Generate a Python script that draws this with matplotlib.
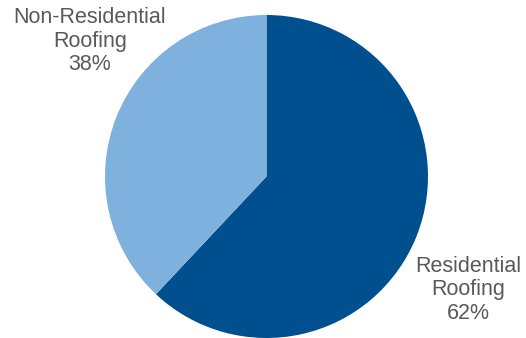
import matplotlib.pyplot as plt

# share of roofing revenue
labels = ["Residential\nRoofing", "Non-Residential\nRoofing"]
shares = [62, 38]
colors = ["#00508F", "#7FB1DF"]

# label anchors in pie units (radius = 1)
label_pos = [(1.248, -0.702), (-1.093, 0.839)]

fig = plt.figure(figsize=(5.26, 3.38), dpi=100)
r_px = 161.5
cx, cy = 266.5, 338 - 176.5
ax = fig.add_axes([(cx - r_px) / 526, (cy - r_px) / 338, 2 * r_px / 526, 2 * r_px / 338])

ax.pie(shares, colors=colors, startangle=90, counterclock=False,
       wedgeprops=dict(linewidth=0))
ax.set_xlim(-1, 1)
ax.set_ylim(-1, 1)
ax.set_aspect("equal")

for lab, s, (x, y) in zip(labels, shares, label_pos):
    ax.text(x, y, f"{lab}\n{s}%", ha="center", va="center",
            fontsize=15.5, color="#595959", family="Liberation Sans",
            linespacing=1.15)

fig.savefig("out.png", dpi=100)
